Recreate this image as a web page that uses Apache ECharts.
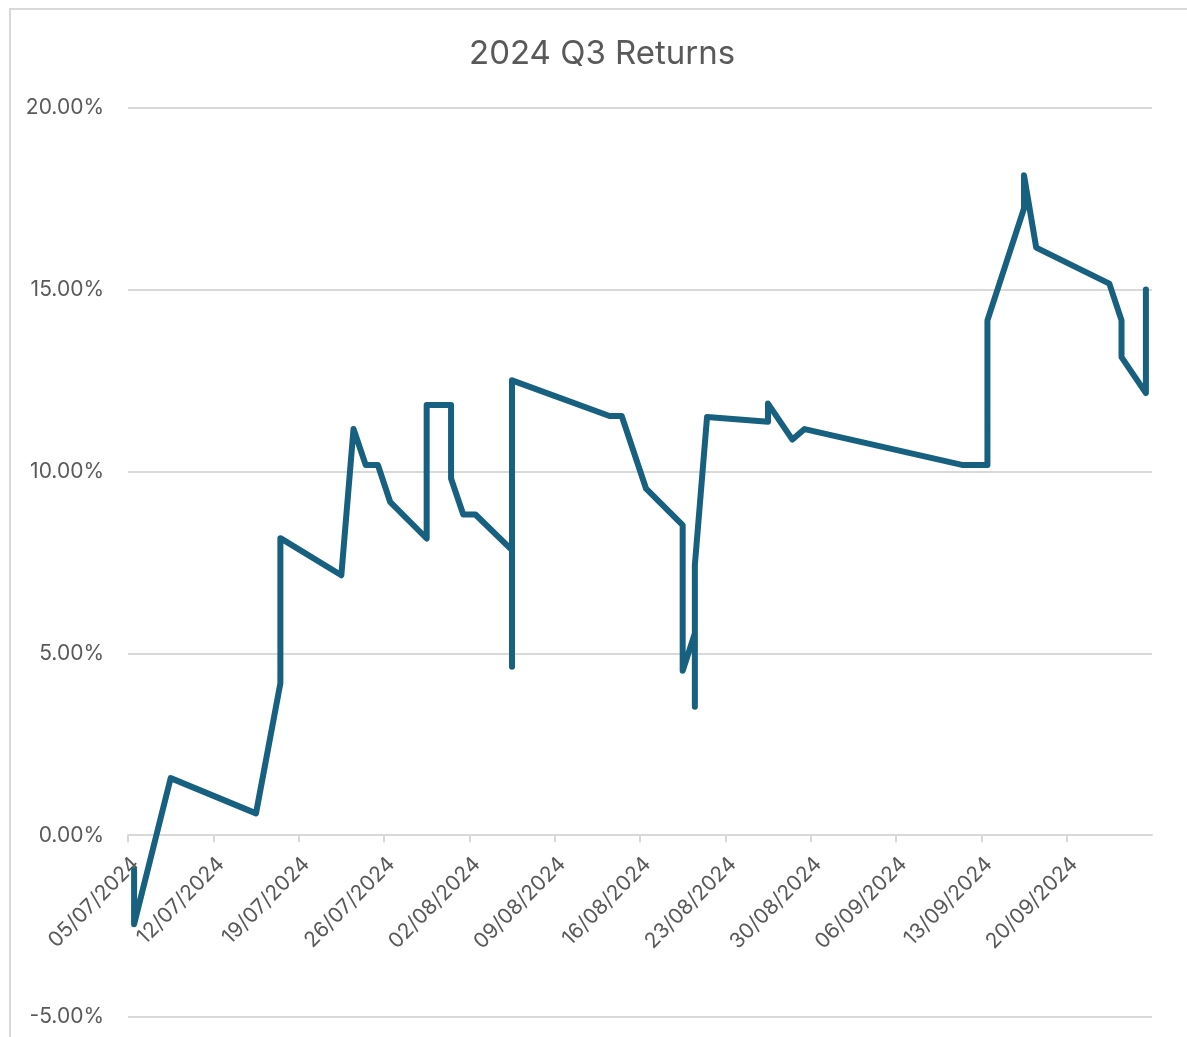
<!DOCTYPE html>
<html>
<head>
<meta charset="utf-8">
<title>2024 Q3 Returns</title>
<script src="https://cdn.jsdelivr.net/npm/echarts@6/dist/echarts.min.js"></script>
<style>
  html, body { margin: 0; padding: 0; background: #fff; }
  #wrap { position: relative; width: 1187px; height: 1037px; overflow: hidden; }
  #chart { width: 1187px; height: 1037px; }
  .frame {
    position: absolute; left: 9px; top: 8px; width: 1300px; height: 1200px;
    border: 2px solid #d9d9d9; pointer-events: none;
  }
</style>
</head>
<body>
<div id="wrap">
  <div id="chart"></div>
  <div class="frame"></div>
</div>
<script>
// trade dates (several entries on one date give the vertical jumps)
const dates = [
  '05/07/2024', '05/07/2024', '08/07/2024', '15/07/2024', '17/07/2024', '17/07/2024',
  '22/07/2024', '23/07/2024', '24/07/2024', '25/07/2024', '26/07/2024',
  '29/07/2024', '29/07/2024', '31/07/2024', '31/07/2024', '01/08/2024', '02/08/2024',
  '05/08/2024', '05/08/2024', '05/08/2024', '13/08/2024', '14/08/2024', '16/08/2024',
  '19/08/2024', '19/08/2024', '20/08/2024', '20/08/2024', '20/08/2024', '21/08/2024',
  '26/08/2024', '26/08/2024', '28/08/2024', '29/08/2024', '11/09/2024',
  '13/09/2024', '13/09/2024', '16/09/2024', '16/09/2024', '17/09/2024',
  '23/09/2024', '24/09/2024', '24/09/2024', '26/09/2024', '26/09/2024'
]
// cumulative return, percent
const returns = [
  -0.96, -2.45, 1.57, 0.60, 4.18, 8.17,
  7.15, 11.17, 10.18, 10.18, 9.17,
  8.16, 11.83, 11.83, 9.81, 8.82, 8.82,
  7.84, 4.63, 12.51, 11.53, 11.53, 9.53,
  8.53, 4.52, 5.55, 3.53, 7.43, 11.50,
  11.37, 11.87, 10.88, 11.17, 10.18,
  10.18, 14.16, 17.24, 18.15, 16.16,
  15.17, 14.16, 13.15, 12.16, 15.01
]
const startDate = '05/07/2024'
const endDate = '27/09/2024'
const yTicks = [-5, 0, 5, 10, 15, 20]

const DAY = 86400000
const parseDate = (s) => {
  const [d, m, y] = s.split('/').map(Number)
  return Date.UTC(y, m - 1, d)
}
const base = parseDate(startDate)
const span = (parseDate(endDate) - base) / DAY
const pad = (n) => String(n).padStart(2, '0')
const fmtDate = (days) => {
  const dt = new Date(base + days * DAY)
  return pad(dt.getUTCDate()) + '/' + pad(dt.getUTCMonth() + 1) + '/' + dt.getUTCFullYear()
}

// date axis: each day sits in the middle of its slot
const seriesData = dates.map((d, i) => [(parseDate(d) - base) / DAY + 0.5, returns[i]])

const chart = echarts.init(document.getElementById('chart'))
const textColor = '#595959'
const gridColor = '#d9d9d9'
const font = 'Inter, "Open Sans", sans-serif'

const grid = { left: 128, right: 35, top: 108, bottom: 20 }
const yMin = yTicks[0]
const yMax = yTicks[yTicks.length - 1]
// category axis crosses the value axis at 0, like Excel
const plotH = 1037 - grid.top - grid.bottom
const xAxisOffset = -((0 - yMin) / (yMax - yMin)) * plotH

chart.setOption({
  animation: false,
  backgroundColor: '#fff',
  title: {
    text: '2024 Q3 Returns',
    left: 469,
    top: 38,
    padding: 0,
    textStyle: { fontSize: 33, fontWeight: 'normal', color: textColor, fontFamily: font }
  },
  grid: { ...grid, outerBoundsMode: 'none', containLabel: false },
  xAxis: {
    type: 'value',
    min: 0,
    max: span,
    interval: 7,
    position: 'bottom',
    offset: xAxisOffset,
    axisLine: { onZero: false, lineStyle: { color: gridColor, width: 2 } },
    axisTick: { show: true, length: 7, lineStyle: { color: gridColor, width: 2 } },
    splitLine: { show: false },
    axisLabel: {
      rotate: 45,
      margin: 18,
      verticalAlign: 'top',
      fontSize: 21,
      color: textColor,
      fontFamily: font,
      showMaxLabel: false,
      formatter: (v) => (v >= span ? '' : fmtDate(v))
    }
  },
  yAxis: {
    type: 'value',
    min: yMin,
    max: yMax,
    interval: 5,
    axisLine: { show: false, onZero: false },
    axisTick: { show: false },
    splitLine: { lineStyle: { color: gridColor, width: 2 } },
    axisLabel: {
      margin: 24,
      fontSize: 21,
      color: textColor,
      fontFamily: font,
      formatter: (v) => v.toFixed(2) + '%'
    }
  },
  series: [
    {
      name: 'Returns',
      type: 'line',
      data: seriesData,
      showSymbol: false,
      symbol: 'none',
      lineStyle: { color: '#17607f', width: 6, cap: 'round', join: 'round' }
    }
  ]
})
</script>
</body>
</html>
